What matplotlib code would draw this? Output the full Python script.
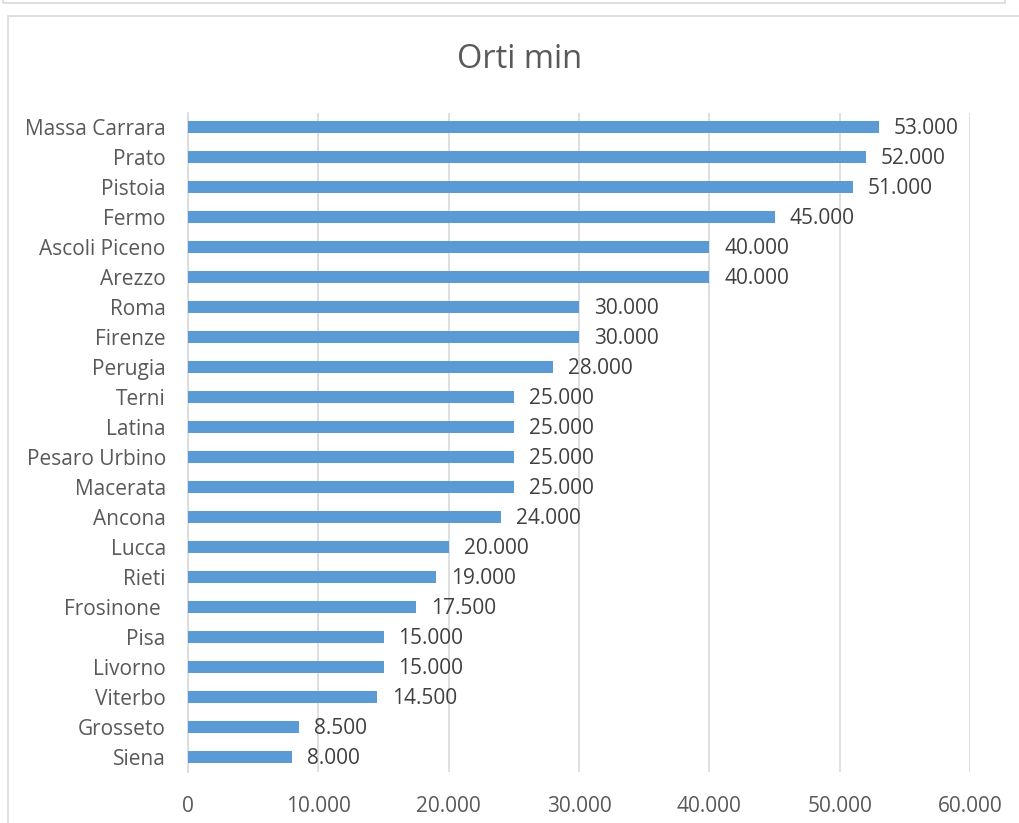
import matplotlib
matplotlib.use('Agg')
import matplotlib.pyplot as plt
from matplotlib.patches import Rectangle

# Province (dall'alto verso il basso) e valori minimi
province = ['Massa Carrara', 'Prato', 'Pistoia', 'Fermo', 'Ascoli Piceno', 'Arezzo',
            'Roma', 'Firenze', 'Perugia', 'Terni', 'Latina', 'Pesaro Urbino',
            'Macerata', 'Ancona', 'Lucca', 'Rieti', 'Frosinone ', 'Pisa',
            'Livorno', 'Viterbo', 'Grosseto', 'Siena']
valori = [53000, 52000, 51000, 45000, 40000, 40000, 30000, 30000, 28000, 25000,
          25000, 25000, 25000, 24000, 20000, 19000, 17500, 15000, 15000, 14500,
          8500, 8000]
tick_x = [0, 10000, 20000, 30000, 40000, 50000, 60000]

BAR = '#5B9BD5'
GRID = '#D9D9D9'
TXT = '#595959'


def fmt(v):
    return f'{v:,.0f}'.replace(',', '.')


plt.rcParams['font.family'] = ['Open Sans', 'DejaVu Sans']

fig = plt.figure(figsize=(10.19, 8.23), dpi=100)
# cornici dell'area grafico
fig.patches.append(Rectangle((3 / 1019, 1 - 3 / 823), 1002 / 1019, 0.05,
                             transform=fig.transFigure, fill=False,
                             edgecolor=GRID, lw=1.2))
fig.patches.append(Rectangle((8 / 1019, -0.05), 1.1, 1 - 16 / 823 + 0.05,
                             transform=fig.transFigure, fill=False,
                             edgecolor=GRID, lw=1.2))

ax = fig.add_axes([188 / 1019, 1 - 772 / 823, (970 - 188) / 1019, (772 - 113) / 823])
y = list(range(len(province)))[::-1]
ax.barh(y, valori, height=0.4, color=BAR, zorder=3)
for yi, v in zip(y, valori):
    ax.text(v + 1150, yi - 0.04, fmt(v), va='center', ha='left', fontsize=15, color='#404040')

ax.set_xlim(0, 60000)
ax.set_ylim(-0.5, 21.47)
ax.set_xticks(tick_x)
ax.set_xticklabels([fmt(t) for t in tick_x], fontsize=15, color=TXT)
ax.set_yticks(y)
ax.set_yticklabels(province, fontsize=15, color=TXT)
ax.tick_params(length=0)
ax.tick_params(axis='y', pad=16)
ax.tick_params(axis='x', pad=17)
ax.grid(axis='x', color=GRID, lw=1.2, zorder=0)
for s in ['top', 'right', 'bottom']:
    ax.spines[s].set_visible(False)
ax.spines['left'].set_color(GRID)
ax.spines['left'].set_linewidth(1.2)

fig.text(520 / 1019, 1 - 59 / 823, 'Orti min', ha='center', va='center',
         fontsize=23.5, color=TXT)

fig.savefig('out.png', dpi=100)
